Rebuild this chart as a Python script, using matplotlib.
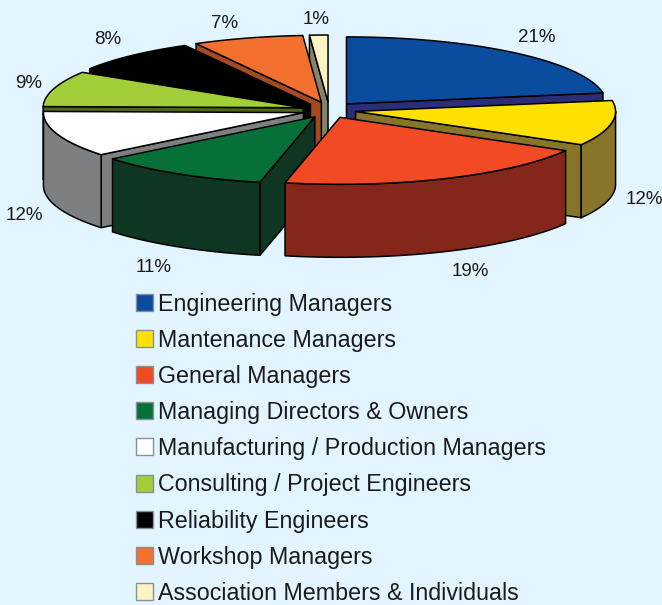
import numpy as np
import matplotlib
matplotlib.use('Agg')
import matplotlib.pyplot as plt
from matplotlib.patches import Polygon, Rectangle

plt.rcParams['font.family'] = ['Liberation Sans', 'DejaVu Sans']

# --- dados ---
categorias = ['Engineering Managers', 'Mantenance Managers', 'General Managers',
              'Managing Directors & Owners', 'Manufacturing / Production Managers',
              'Consulting / Project Engineers', 'Reliability Engineers',
              'Workshop Managers', 'Association Members & Individuals']
valores = [21, 12, 19, 11, 12, 9, 8, 7, 1]
cores_topo = ['#0A4D9F', '#FFE000', '#F24A25', '#067038', '#FFFFFF',
              '#A1CE39', '#000000', '#F4702E', '#FFF3C4']
cores_lado = ['#2A2E78', '#87762A', '#84271A', '#0F3622', '#7C8082',
              '#526520', '#000000', '#A44A20', '#85826A']

# geometria em pixels da figura
CX, CY = 329, 110
RX, RY = 260, 67
ALTURA = 73
EX, EY = 27, 8
FUNDO = '#E2F4FF'

# a perspectiva desloca um pouco cada divisa entre setores (graus)
correcao_vista = [0, 5, 1, 5, 4.3, 1, -0.5, 0, -0.5, 0]

# onde cada rótulo de percentagem fica
pos_rotulos = [(537, 35), (644, 198), (470, 270), (154, 266), (24, 214),
               (29, 82), (108, 38), (225, 22), (316, 18)]


def ponto(ax_c, ay_c, t):
    r = np.radians(t)
    return ax_c + RX * np.sin(r), ay_c - RY * np.cos(r)


def desenhar_fatia(ax, t1, t2, topo, lado):
    meio = np.radians((t1 + t2) / 2)
    ox = CX + EX * np.sin(meio)
    oy = CY - EY * np.cos(meio)
    estilo = dict(edgecolor='black', linewidth=1.1, joinstyle='round')

    # faces radiais: só as que estão viradas para a frente
    for t, normal in ((t1, t1 - 90), (t2, t2 + 90)):
        if np.cos(np.radians(normal)) < -0.001:
            x, y = ponto(ox, oy, t)
            ax.add_patch(Polygon([(ox, oy), (x, y), (x, y + ALTURA), (ox, oy + ALTURA)],
                                 facecolor=lado, **estilo))

    # parede externa
    a, b = max(t1, 90), min(t2, 270)
    if b > a:
        ts = np.linspace(a, b, 60)
        x, y = ponto(ox, oy, ts)
        pts = np.r_[np.c_[x, y], np.c_[x, y + ALTURA][::-1]]
        ax.add_patch(Polygon(pts, facecolor=lado, **estilo))

    # tampo
    ts = np.linspace(t1, t2, 80)
    x, y = ponto(ox, oy, ts)
    pts = np.r_[[(ox, oy)], np.c_[x, y]]
    ax.add_patch(Polygon(pts, facecolor=topo, **estilo))


fig = plt.figure(figsize=(6.62, 6.05), dpi=100, facecolor=FUNDO)
ax = fig.add_axes([0, 0, 1, 1])
ax.set_xlim(0, 662)
ax.set_ylim(605, 0)
ax.axis('off')

acum = np.cumsum([0] + valores) * 3.6
angulos = acum + np.array(correcao_vista)

# ordem de pintura: do fundo para a frente
for i in [0, 8, 7, 6, 5, 4, 1, 3, 2]:
    desenhar_fatia(ax, angulos[i], angulos[i + 1], cores_topo[i], cores_lado[i])

for v, (x, y) in zip(valores, pos_rotulos):
    ax.text(x, y + 2, f'{v}%', fontsize=13.5, color='#1a1a1a', ha='center', va='center')

# legenda
for i, nome in enumerate(categorias):
    y = 302 + i * 36.2
    ax.add_patch(Rectangle((136, y - 8.5), 17, 17, facecolor=cores_topo[i],
                           edgecolor='#8A8F94', linewidth=1))
    ax.text(158, y + 2, nome, fontsize=16.75, color='#1a1a1a', ha='left', va='center')

fig.savefig('out.png', dpi=100, facecolor=FUNDO)
